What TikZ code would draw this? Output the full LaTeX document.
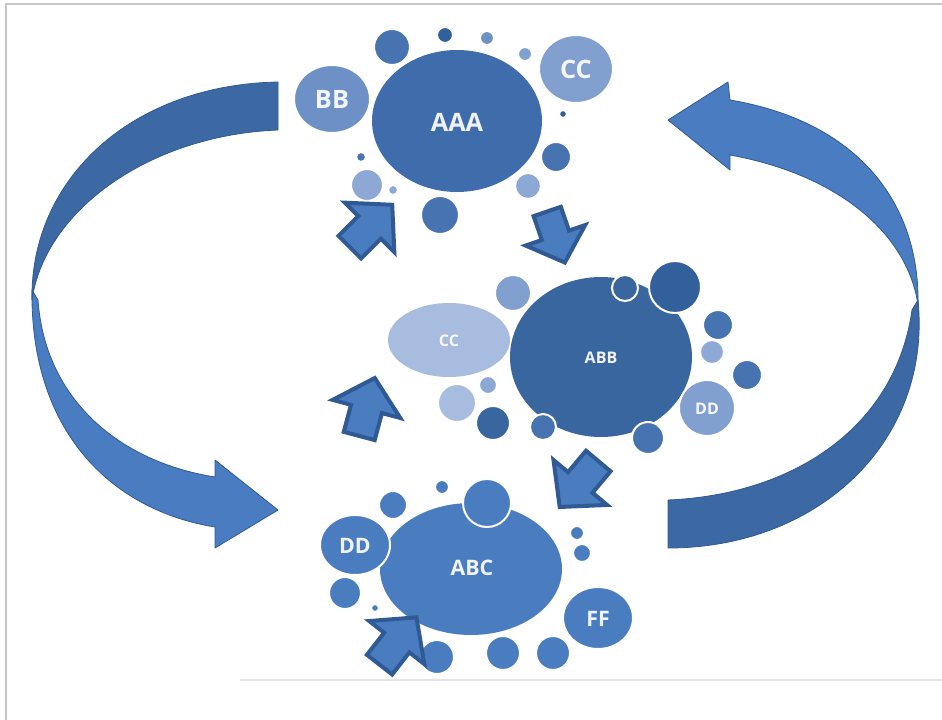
\documentclass[tikz,border=0pt]{standalone}
\usepackage{fontspec}
\setmainfont{Open Sans}
\usepackage{tikz}
\usetikzlibrary{calc}
\definecolor{cAAA}{HTML}{3F6DAB}
\definecolor{cABB}{HTML}{3A669F}
\definecolor{cABC}{HTML}{4A7CC0}
\definecolor{cDark}{HTML}{32609A}
\definecolor{cMid}{HTML}{4773B1}
\definecolor{cSoft}{HTML}{6D91C7}
\definecolor{cLight}{HTML}{819FCF}
\definecolor{cPale}{HTML}{8DA8D4}
\definecolor{cPalest}{HTML}{A8BCDF}
\definecolor{cBandDark}{HTML}{3C68A4}
\definecolor{cBandLight}{HTML}{4A7CC1}
\definecolor{cEdge}{HTML}{2F5A93}
\definecolor{cFrame}{HTML}{C6C6C6}
\tikzset{>=latex}
\tikzset{blockarrow/.pic={
  \filldraw[smallarrow] (-30,-16) -- (-2,-16) -- (-2,-35) -- (30,0) -- (-2,35) -- (-2,16) -- (-30,16) -- cycle;
}}

\begin{document}
\begin{tikzpicture}[x=0.75pt,y=-0.75pt,
  bubble/.style={draw=white,line width=1.5pt},
  band/.style={draw=cEdge,line width=0.6pt,line join=round},
  smallarrow/.style={fill=cABC,draw=cEdge,line width=3pt,line join=miter},
  biglbl/.style={text=white,text opacity=0.92,font=\fontsize{19}{19}\selectfont\bfseries},
  midlbl/.style={text=white,text opacity=0.92,font=\fontsize{16}{16}\selectfont\bfseries},
  smalllbl/.style={text=white,text opacity=0.92,font=\fontsize{12}{12}\selectfont\bfseries}]
\useasboundingbox (0,0) rectangle (942,720);
\draw[cFrame,line width=1.5pt] (6,720) -- (6,4) -- (942,4);
\draw[black!10,line width=1pt] (240,680) -- (942,680);

% left loop
\filldraw[band,fill=cBandLight] (32,290) .. controls (30,430) and (110,510) .. (215,527)
  -- (215,548) -- (278,510) -- (215,460) -- (215,477)
  .. controls (120,462) and (45,400) .. (38,300) -- cycle;
\filldraw[band,fill=cBandDark] (278,82) .. controls (130,85) and (30,180) .. (32,300)
  .. controls (45,210) and (150,135) .. (278,130) -- cycle;

% right loop
\filldraw[band,fill=cBandDark] (918,300) .. controls (932,440) and (820,548) .. (668,548)
  -- (668,500) .. controls (790,495) and (895,430) .. (912,310) -- cycle;
\filldraw[band,fill=cBandLight] (730,100) .. controls (860,122) and (920,205) .. (918,305)
  .. controls (908,235) and (840,175) .. (730,155)
  -- (730,170) -- (668,120) -- (728,82) -- cycle;

% top cluster
\fill[cAAA] (457,121) ellipse [x radius=85, y radius=71];
\filldraw[bubble,fill=cSoft] (332,99) ellipse [x radius=38, y radius=34];
\filldraw[bubble,fill=cLight] (576,69) ellipse [x radius=37, y radius=34];
\foreach \x/\y/\r/\c in {392/47/18/cMid, 445/35/8/cDark, 487/38/7/cSoft, 525/54/7/cLight,
  563/114/4/cDark, 556/157/15/cMid, 528/186/13/cPale, 440/215/19/cMid,
  367/185/16/cPale, 393/190/5/cPale, 361/157/5/cMid}
  \filldraw[bubble,fill=\c] (\x,\y) circle [radius=\r];
\node[biglbl] (aaa) at (457,122) {AAA};
\node[biglbl] (bb) at (332,99) {BB};
\node[biglbl] (cctop) at (576,69) {CC};

% middle cluster
\fill[cABB] (601,357) ellipse [x radius=91, y radius=80];
\fill[cPalest] (449,340) ellipse [x radius=61, y radius=37];
\foreach \x/\y/\r/\c in {513/293/18/cLight, 625/288/13/cABB, 675/287/26/cDark, 718/325/15/cMid,
  712/352/12/cPale, 747/375/15/cMid, 707/408/28/cLight, 648/438/16/cMid,
  543/427/13/cMid, 493/423/17/cABB, 457/403/19/cPalest, 488/385/9/cPale}
  \filldraw[bubble,fill=\c] (\x,\y) circle [radius=\r];
\node[smalllbl] (ccmid) at (449,341) {CC};
\node[smalllbl] (abb) at (601,358) {ABB};
\node[smalllbl] (ddmid) at (707,409) {DD};

% bottom cluster
\fill[cABC] (471,569) ellipse [x radius=91, y radius=66];
\filldraw[bubble,fill=cABC] (355,545) ellipse [x radius=35, y radius=30];
\filldraw[bubble,fill=cABC] (598,618) ellipse [x radius=35, y radius=31];
\foreach \x/\y/\r in {487/503/24, 442/487/7, 393/505/14, 345/593/16, 375/608/4,
  577/533/7, 582/553/9, 437/657/17, 503/653/17, 553/653/17}
  \filldraw[bubble,fill=cABC] (\x,\y) circle [radius=\r];
\node[midlbl] (abc) at (472,568) {ABC};
\node[midlbl] (ddbot) at (355,546) {DD};
\node[midlbl] (ff) at (598,619) {FF};

% small arrows
\pic[rotate=45] at (371,226) {blockarrow};
\pic[rotate=-71,scale=0.9] at (556,237) {blockarrow};
\pic[rotate=75] at (367,407) {blockarrow};
\pic[rotate=-130] at (579,484) {blockarrow};
\pic[rotate=52] at (398,641) {blockarrow};
\end{tikzpicture}
\end{document}
